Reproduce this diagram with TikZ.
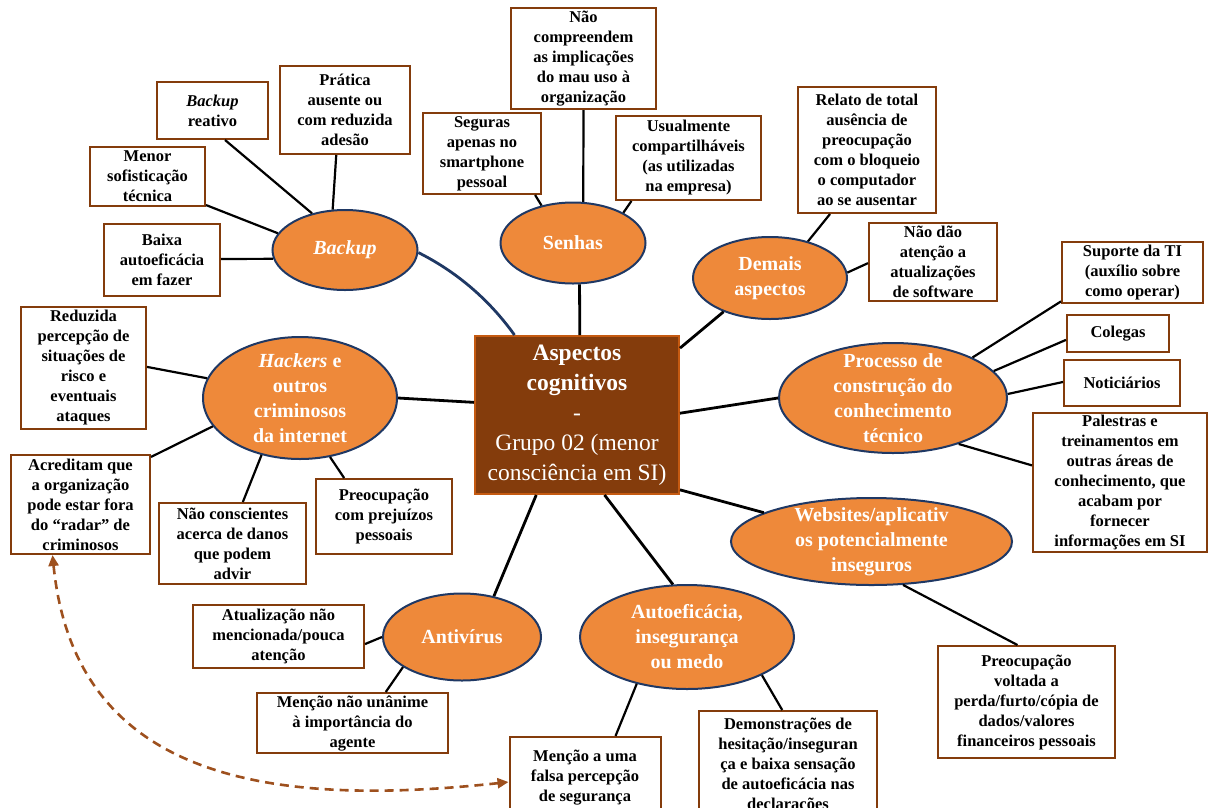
\documentclass[tikz,border=0pt]{standalone}
\usepackage{fontspec}
\setmainfont{Liberation Serif}
\usetikzlibrary{shapes.geometric,arrows.meta}

\definecolor{ovalfill}{RGB}{238,137,58}
\definecolor{ovaldraw}{RGB}{31,56,100}
\definecolor{boxbrown}{RGB}{132,60,12}
\definecolor{hubfill}{RGB}{132,60,12}
\definecolor{hubdraw}{RGB}{197,90,17}
\definecolor{dashbrown}{RGB}{158,80,30}

\newcommand\lffont{\fontsize{16.5pt}{20pt}\selectfont\bfseries}
\newcommand\ovfont{\fontsize{20pt}{25pt}\selectfont\bfseries}
\newcommand\hubfont{\fontsize{23.5pt}{30pt}\selectfont}

\begin{document}
\begin{tikzpicture}[x=1pt,y=-1pt,
  leaf/.style={rectangle, draw=boxbrown, line width=2pt, fill=white, inner sep=0pt},
  leaftext/.style={font=\lffont, align=center, inner sep=0pt, text=black},
  oval/.style={ellipse, draw=ovaldraw, line width=2pt, fill=ovalfill, inner sep=0pt},
  ovaltext/.style={font=\ovfont, align=center, inner sep=0pt, text=white},
  hubbox/.style={rectangle, draw=hubdraw, line width=2pt, fill=hubfill, inner sep=0pt},
  hubtext/.style={font=\hubfont, align=center, inner sep=0pt, text=white},
  wh/.style 2 args={minimum width=#1pt, minimum height=#2pt},
  link/.style={draw=black, line width=2.2pt},
  spoke/.style={draw=black, line width=2.8pt},
  curvedspoke/.style={draw=ovaldraw, line width=2.8pt},
  backref/.style={draw=dashbrown, line width=2.6pt, dash pattern=on 9pt off 6pt,
    {Triangle[length=11pt,width=10pt]}-{Triangle[length=11pt,width=10pt]}}
]
\useasboundingbox (0,0) rectangle (1208,807);

% central topic
\node[hubbox, wh={204}{158}, label={[hubtext]center:{\textbf{Aspectos}\\\textbf{cognitivos}\\-\\Grupo 02 (menor\\consciência em SI)}}] (hub) at (577,415) {};

% themes
\node[oval, wh={145}{80}, label={[ovaltext]center:{\itshape Backup}}] (backup) at (345,250) {};
\node[oval, wh={145}{81}, label={[ovaltext]center:{Senhas}}] (senhas) at (573,243) {};
\node[oval, wh={154}{82}, label={[ovaltext]center:{Demais\\aspectos}}] (demais) at (770,278) {};
\node[oval, wh={194}{122}, label={[ovaltext]center:{\textit{Hackers} e\\outros\\criminosos\\da internet}}] (hackers) at (300,398) {};
\node[oval, wh={228}{110}, label={[ovaltext]center:{Processo de\\construção do\\conhecimento\\técnico}}] (processo) at (893,398) {};
\node[oval, wh={281}{87}, label={[ovaltext]center:{Websites/aplicativ\\os potencialmente\\inseguros}}] (websites) at (871.5,541.5) {};
\node[oval, wh={158}{87}, label={[ovaltext]center:{Antivírus}}] (antivirus) at (462,637) {};
\node[oval, wh={214}{104}, label={[ovaltext]center:{Autoeficácia,\\insegurança\\ou medo}}] (auto) at (687,637) {};

% Backup details
\node[leaf, wh={111}{57}, label={[leaftext]center:{\textit{Backup}\\reativo}}] (bkreativo) at (212.5,110.5) {};
\node[leaf, wh={130}{88}, label={[leaftext]center:{Prática\\ausente ou\\com reduzida\\adesão}}] (pratica) at (345,110) {};
\node[leaf, wh={115}{59}, label={[leaftext]center:{Menor\\sofisticação\\técnica}}] (menor) at (147.5,176.5) {};
\node[leaf, wh={116}{72}, label={[leaftext]center:{Baixa\\autoeficácia\\em fazer}}] (baixa) at (162,260) {};

% Senhas details
\node[leaf, wh={145}{101}, label={[leaftext]center:{Não\\compreendem\\as implicações\\do mau uso à\\organização}}] (naocomp) at (583.5,58.5) {};
\node[leaf, wh={118}{81}, label={[leaftext]center:{Seguras\\apenas no\\smartphone\\pessoal}}] (seguras) at (482,153.5) {};
\node[leaf, wh={145}{84}, label={[leaftext]center:{Usualmente\\compartilháveis\\(as utilizadas\\na empresa)}}] (usual) at (688.5,158) {};

% Demais aspectos details
\node[leaf, wh={138}{126}, label={[leaftext]center:{Relato de total\\ausência de\\preocupação\\com o bloqueio\\o computador\\ao se ausentar}}] (relato) at (867,150) {};
\node[leaf, wh={128}{78}, label={[leaftext]center:{Não dão\\atenção a\\atualizações\\de software}}] (naodao) at (933,262) {};

% Processo de construção details
\node[leaf, wh={141}{61}, label={[leaftext]center:{Suporte da TI\\(auxílio sobre\\como operar)}}] (suporte) at (1132.5,272.5) {};
\node[leaf, wh={102}{37}, label={[leaftext]center:{Colegas}}] (colegas) at (1118,333.5) {};
\node[leaf, wh={116}{46}, label={[leaftext]center:{Noticiários}}] (noticias) at (1122,383) {};
\node[leaf, wh={174}{139}, label={[leaftext]center:{Palestras e\\treinamentos em\\outras áreas de\\conhecimento, que\\acabam por\\fornecer\\informações em SI}}] (palestras) at (1120,482.5) {};

% Hackers details
\node[leaf, wh={125}{122}, label={[leaftext]center:{Reduzida\\percepção de\\situações de\\risco e\\eventuais\\ataques}}] (reduzida) at (83.5,368) {};
\node[leaf, wh={139}{99}, label={[leaftext]center:{Acreditam que\\a organização\\pode estar fora\\do “radar” de\\criminosos}}] (acreditam) at (80.5,504.5) {};
\node[leaf, wh={147}{81}, label={[leaftext]center:{Não conscientes\\acerca de danos\\que podem\\advir}}] (naocons) at (232.5,543.5) {};
\node[leaf, wh={136}{75}, label={[leaftext]center:{Preocupação\\com prejuízos\\pessoais}}] (prejuizos) at (384,516.5) {};

% Antivírus details
\node[leaf, wh={171}{63}, label={[leaftext]center:{Atualização não\\mencionada/pouca\\atenção}}] (atual) at (278.5,636.5) {};
\node[leaf, wh={191}{60}, label={[leaftext]center:{Menção não unânime\\à importância do\\agente}}] (unanime) at (352.5,723) {};

% Autoeficácia details
\node[leaf, wh={151}{82}, label={[leaftext]center:{Menção a uma\\falsa percepção\\de segurança}}] (falsa) at (585,778) {};
\node[leaf, wh={178}{108}, label={[leaftext]center:{Demonstrações de\\hesitação/inseguran\\ça e baixa sensação\\de autoeficácia nas\\declarações}}] (hesitacao) at (788,765) {};

% Websites details
\node[leaf, wh={177}{112}, label={[leaftext]center:{Preocupação\\voltada a\\perda/furto/cópia de\\dados/valores\\financeiros pessoais}}] (perda) at (1026.5,702) {};

% spokes from the central topic
\draw[curvedspoke] (backup.-2) .. controls (455,271) and (488,298) .. (hub.128);
\draw[spoke] (hub.88.5) -- (senhas.-81.5);
\draw[spoke] (hub.33.4) -- (demais.-144.1);
\draw[spoke] (hub.1.7) -- (processo.180);
\draw[spoke] (hub.-36) -- (websites.165.5);
\draw[spoke] (hub.-71.3) -- (auto.105);
\draw[spoke] (hub.-117.7) -- (antivirus.52.2);
\draw[spoke] (hub.173.8) -- (hackers.-0.6);

% Backup links
\draw[link] (bkreativo.-67) -- (backup.132.6);
\draw[link] (pratica.-101.3) -- (backup.107.2);
\draw[link] (menor.-26.4) -- (backup.166);
\draw[link] (baixa.1) -- (backup.187.8);

% Senhas links
\draw[link] (naocomp.-90) -- (senhas.76.3);
\draw[link] (seguras.-38.6) -- (senhas.130);
\draw[link] (usual.217.1) -- (senhas.31.8);

% Demais aspectos links
\draw[link] (relato.-120.7) -- (demais.44.2);
\draw[link] (naodao.181.3) -- (demais.4.5);

% Processo links
\draw[link] (suporte.-158) -- (processo.27.4);
\draw[link] (colegas.187.3) -- (processo.15.1);
\draw[link] (noticias.179) -- (processo.2);
\draw[link] (palestras.169.9) -- (processo.-35.1);

% Hackers links
\draw[link] (reduzida.1.8) -- (hackers.168.5);
\draw[link] (acreditam.34.7) -- (hackers.198.2);
\draw[link] (naocons.76.8) -- (hackers.236.8);
\draw[link] (prejuizos.136.1) -- (hackers.-63);

% Antivírus links
\draw[link] (atual.-5) -- (antivirus.180);
\draw[link] (unanime.43.6) -- (antivirus.207.3);

% Autoeficácia links
\draw[link] (falsa.54.5) -- (auto.223.8);
\draw[link] (hesitacao.96.3) -- (auto.-27.2);

% Websites link
\draw[link] (perda.99.6) -- (websites.-54.2);

% cross reference between related statements
\draw[backref] (acreditam.-119) .. controls (75,780) and (270,808) .. (falsa.183);
\end{tikzpicture}
\end{document}
